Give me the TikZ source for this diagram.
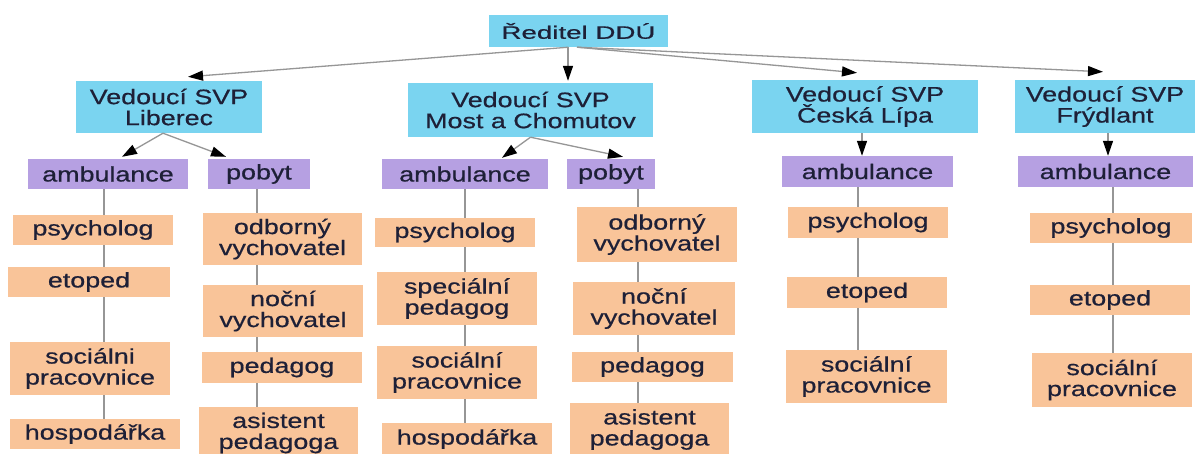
\documentclass[tikz,border=0pt]{standalone}
\usepackage{fontspec}
\setmainfont{Liberation Sans}
\newfontfamily\boxfont[FakeStretch=1.28,FakeBold=0.6]{Liberation Sans}
\newfontfamily\topfont[FakeStretch=1.54,FakeBold=0.6]{Liberation Sans}
\usetikzlibrary{arrows.meta}
\definecolor{cyanbox}{RGB}{122,212,240}
\definecolor{purplebox}{RGB}{182,160,226}
\definecolor{orangebox}{RGB}{249,196,153}
\definecolor{txtcol}{RGB}{30,32,55}
\definecolor{linegray}{RGB}{150,150,150}
\tikzset{
  base/.style={inner sep=0pt, align=center, text=txtcol,
    font=\boxfont\fontsize{21}{21}\selectfont},
  cbox/.style={base, fill=cyanbox},
  pbox/.style={base, fill=purplebox},
  obox/.style={base, fill=orangebox},
  sz/.style 2 args={minimum width=#1pt, minimum height=#2pt},
  conn/.style={draw=linegray, line width=1.3pt},
  arr/.style={conn, -{Triangle[length=15pt,width=10pt,color=black]}},
}
\begin{document}
\begin{tikzpicture}[x=1pt,y=-1pt]
\fill[white] (0,0) rectangle (1195,453);
\useasboundingbox (0,0) rectangle (1195,453);

% top
\node[cbox, sz={179}{32}, font=\topfont\fontsize{18}{20}\selectfont] (rd) at (578.5,31) {Ředitel DDÚ};

% level 1
\node[cbox, sz={186}{52}] (L) at (169,107) {Vedoucí SVP\\Liberec};
\node[cbox, sz={245}{54}] (M) at (530.5,110) {Vedoucí SVP\\Most a Chomutov};
\node[cbox, sz={226}{53}] (C) at (865,106.5) {Vedoucí SVP\\Česká Lípa};
\node[cbox, sz={180}{53}] (F) at (1105,106.5) {Vedoucí SVP\\Frýdlant};

% level 2
\node[pbox, sz={160}{30}] (La) at (108,174) {ambulance};
\node[pbox, sz={102}{30}] (Lp) at (259,174) {pobyt};
\node[pbox, sz={166}{30}] (Ma) at (465,174) {ambulance};
\node[pbox, sz={88}{30}] (Mp) at (611,174) {pobyt};
\node[pbox, sz={171}{31}] (Ca) at (867.5,171.5) {ambulance};
\node[pbox, sz={175}{31}] (Fa) at (1105.5,171.5) {ambulance};

% Liberec ambulance
\node[obox, sz={160}{30}] (L1) at (93,230) {psycholog};
\node[obox, sz={162}{30}] (L2) at (89,282) {etoped};
\node[obox, sz={160}{53}] (L3) at (90,368.5) {sociálni\\pracovnice};
\node[obox, sz={170}{30}] (L4) at (95,434) {hospodářka};
% Liberec pobyt
\node[obox, sz={159}{52}] (P1) at (282.5,239) {odborný\\vychovatel};
\node[obox, sz={160}{52}] (P2) at (283,311) {noční\\vychovatel};
\node[obox, sz={160}{31}] (P3) at (282,367.5) {pedagog};
\node[obox, sz={159}{52}] (P4) at (278.5,433) {asistent\\pedagoga};
% Most ambulance
\node[obox, sz={160}{29}] (M1) at (455,232.5) {psycholog};
\node[obox, sz={160}{53}] (M2) at (457,298.5) {speciální\\pedagog};
\node[obox, sz={160}{53}] (M3) at (457,372.5) {sociální\\pracovnice};
\node[obox, sz={170}{32}] (M4) at (467,439) {hospodářka};
% Most pobyt
\node[obox, sz={160}{55}] (Q1) at (657,234.5) {odborný\\vychovatel};
\node[obox, sz={162}{53}] (Q2) at (654,308.5) {noční\\vychovatel};
\node[obox, sz={161}{30}] (Q3) at (652.5,367) {pedagog};
\node[obox, sz={159}{53}] (Q4) at (649.5,429.5) {asistent\\pedagoga};
% Ceska Lipa
\node[obox, sz={160}{31}] (C1) at (868,222.5) {psycholog};
\node[obox, sz={160}{31}] (C2) at (867,292.5) {etoped};
\node[obox, sz={161}{53}] (C3) at (866.5,376.5) {sociální\\pracovnice};
% Frydlant
\node[obox, sz={162}{30}] (F1) at (1111,228) {psycholog};
\node[obox, sz={160}{30}] (F2) at (1110,300) {etoped};
\node[obox, sz={160}{54}] (F3) at (1112,380) {sociální\\pracovnice};

% arrows from director
\draw[arr] ([xshift=-10pt]rd.south) -- ([xshift=19pt,yshift=4pt]L.north);
\draw[arr] ([xshift=-10.5pt]rd.south) -- ([xshift=37.5pt,yshift=2pt]M.north);
\draw[arr] ([xshift=-1.5pt]rd.south) -- ([xshift=-8pt,yshift=7pt]C.north);
\draw[arr] ([xshift=-1.5pt]rd.south) -- ([xshift=-2pt,yshift=8pt]F.north);

% arrows to ambulance/pobyt
\draw[arr] ([xshift=-6pt]L.south) -- ([xshift=14pt,yshift=2pt]La.north);
\draw[arr] ([xshift=-6pt]L.south) -- ([xshift=-33pt,yshift=2pt]Lp.north);
\draw[arr] (M.south) -- ([xshift=37pt,yshift=1pt]Ma.north);
\draw[arr] (M.south) -- ([xshift=12pt,yshift=2pt]Mp.north);
\draw[arr] ([xshift=-3pt]C.south) -- ([xshift=-5.5pt]Ca.north);
\draw[arr] ([xshift=3pt]F.south) -- ([xshift=2.5pt]Fa.north);

% vertical connectors
\coordinate (xL) at (104,0);
\coordinate (xP) at (257,0);
\coordinate (xM) at (465,0);
\coordinate (xQ) at (638,0);
\coordinate (xC) at (858,0);
\coordinate (xF) at (1113,0);
\draw[conn] (La.south -| xL) -- (L1.north -| xL);
\draw[conn] (L1.south -| xL) -- (L2.north -| xL);
\draw[conn] (L2.south -| xL) -- (L3.north -| xL);
\draw[conn] (L3.south -| xL) -- (L4.north -| xL);
\draw[conn] (Lp.south -| xP) -- (P1.north -| xP);
\draw[conn] (P1.south -| xP) -- (P2.north -| xP);
\draw[conn] (P2.south -| xP) -- (P3.north -| xP);
\draw[conn] (P3.south -| xP) -- (P4.north -| xP);
\draw[conn] (Ma.south -| xM) -- (M1.north -| xM);
\draw[conn] (M1.south -| xM) -- (M2.north -| xM);
\draw[conn] (M2.south -| xM) -- (M3.north -| xM);
\draw[conn] (M3.south -| xM) -- (M4.north -| xM);
\draw[conn] (Mp.south -| xQ) -- (Q1.north -| xQ);
\draw[conn] (Q1.south -| xQ) -- (Q2.north -| xQ);
\draw[conn] (Q2.south -| xQ) -- (Q3.north -| xQ);
\draw[conn] (Q3.south -| xQ) -- (Q4.north -| xQ);
\draw[conn] (Ca.south -| xC) -- (C1.north -| xC);
\draw[conn] (C1.south -| xC) -- (C2.north -| xC);
\draw[conn] (C2.south -| xC) -- (C3.north -| xC);
\draw[conn] (Fa.south -| xF) -- (F1.north -| xF);
\draw[conn] (F1.south -| xF) -- (F2.north -| xF);
\draw[conn] (F2.south -| xF) -- (F3.north -| xF);
\end{tikzpicture}
\end{document}
